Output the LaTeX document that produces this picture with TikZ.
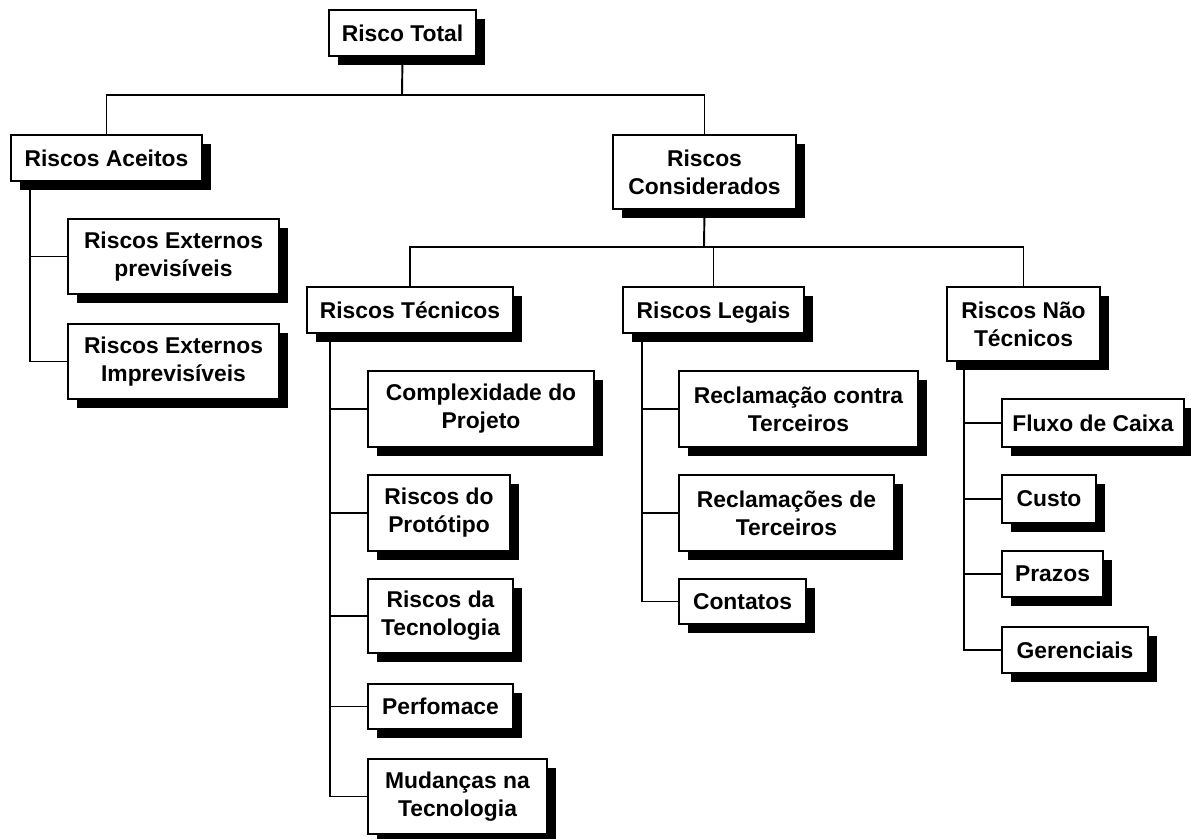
\documentclass[tikz,border=0pt]{standalone}
\usepackage{fontspec}
\setmainfont{Liberation Sans}
\usetikzlibrary{shadows}
\tikzset{
  riskbox/.style={draw, fill=white, line width=1.1pt, inner sep=0pt, align=center,
    font=\bfseries\fontsize{13}{16}\selectfont,
    drop shadow={shadow xshift=0.18cm, shadow yshift=-0.18cm, fill=black, opacity=1}},
  link/.style={line width=1.1pt}
}
\begin{document}
\begin{tikzpicture}[x=0.02cm, y=-0.02cm]
            \useasboundingbox (0,0) rectangle (1191,839);
            {

            % Marking box Risco Total
            \node [riskbox, minimum width=2.94cm, minimum height=0.92cm] (total) at (402.5,33) {Risco Total};%

            % Marking boxes of the second level
            \node [riskbox, minimum width=3.82cm, minimum height=0.92cm] (aceitos) at (106.5,158) {Riscos Aceitos};%
            \node [riskbox, minimum width=3.66cm, minimum height=1.48cm] (consid) at (704.5,172) {Riscos\\Considerados};%

            % Marking boxes under Riscos Aceitos
            \node [riskbox, minimum width=4.22cm, minimum height=1.50cm] (extprev) at (173.5,256.5) {Riscos Externos\\previsíveis};%
            \node [riskbox, minimum width=4.22cm, minimum height=1.50cm] (extimp) at (173.5,361.5) {Riscos Externos\\Imprevisíveis};%

            % Marking boxes under Riscos Considerados
            \node [riskbox, minimum width=4.12cm, minimum height=0.92cm] (tecnicos) at (410,310) {Riscos Técnicos};%
            \node [riskbox, minimum width=3.62cm, minimum height=0.92cm, text depth=0pt] (legais) at (713.5,310) {Riscos Legais};%
            \node [riskbox, minimum width=3.06cm, minimum height=1.48cm] (naotec) at (1023.5,324) {Riscos Não\\Técnicos};%

            % Marking boxes under Riscos Técnicos
            \node [riskbox, minimum width=4.52cm, minimum height=1.52cm] (complex) at (481,409) {Complexidade do\\Projeto};%
            \node [riskbox, minimum width=2.84cm, minimum height=1.52cm] (prototipo) at (439,513) {Riscos do\\Protótipo};%
            \node [riskbox, minimum width=2.90cm, minimum height=1.48cm] (tecnologia) at (440.5,616) {Riscos da\\Tecnologia};%
            \node [riskbox, minimum width=2.90cm, minimum height=0.90cm] (perfomace) at (440.5,706.5) {Perfomace};%
            \node [riskbox, minimum width=3.58cm, minimum height=1.50cm] (mudancas) at (457.5,796.5) {Mudanças na\\Tecnologia};%

            % Marking boxes under Riscos Legais
            \node [riskbox, minimum width=4.78cm, minimum height=1.52cm] (reclcontra) at (798.5,409) {Reclamação contra\\Terceiros};%
            \node [riskbox, minimum width=4.30cm, minimum height=1.52cm] (reclde) at (786.5,513) {Reclamações de\\Terceiros};%
            \node [riskbox, minimum width=2.54cm, minimum height=0.90cm] (contatos) at (742.5,601.5) {Contatos};%

            % Marking boxes under Riscos Não Técnicos
            \node [riskbox, minimum width=3.64cm, minimum height=0.96cm] (fluxo) at (1093,423) {Fluxo de Caixa};%
            \node [riskbox, minimum width=1.88cm, minimum height=0.96cm] (custo) at (1049,499) {Custo};%
            \node [riskbox, minimum width=2.02cm, minimum height=0.92cm] (prazos) at (1052.5,574) {Prazos};%
            \node [riskbox, minimum width=2.92cm, minimum height=0.92cm] (gerenciais) at (1075,650) {Gerenciais};%

            % Bus and trunk points
            \coordinate (bustop) at (402,95);%
            \coordinate (busmid) at (704,247);%
            \coordinate (acTrunk) at (30,181);%
            \coordinate (tecTrunk) at (330,333);%
            \coordinate (legTrunk) at (642,333);%
            \coordinate (ntTrunk) at (964,361);%

            % Drawing the top bus
            \draw [link] (total.south) -- (bustop);%
            \draw [link] (aceitos.north) |- (bustop) -| (consid.north);%

            % Drawing the middle bus
            \draw [link] (consid.south) -- (busmid);%
            \draw [link] (tecnicos.north) |- (busmid) -| (naotec.north);%
            \draw [link] (legais.north) -- (legais.north |- busmid);%

            % Drawing the trunks
            \foreach \n in {extprev,extimp}
              \draw [link] (acTrunk) |- (\n.west);%
            \foreach \n in {complex,prototipo,tecnologia,perfomace,mudancas}
              \draw [link] (tecTrunk) |- (\n.west);%
            \foreach \n in {reclcontra,reclde,contatos}
              \draw [link] (legTrunk) |- (\n.west);%
            \foreach \n in {fluxo,custo,prazos,gerenciais}
              \draw [link] (ntTrunk) |- (\n.west);%
            }
\end{tikzpicture}
\end{document}
